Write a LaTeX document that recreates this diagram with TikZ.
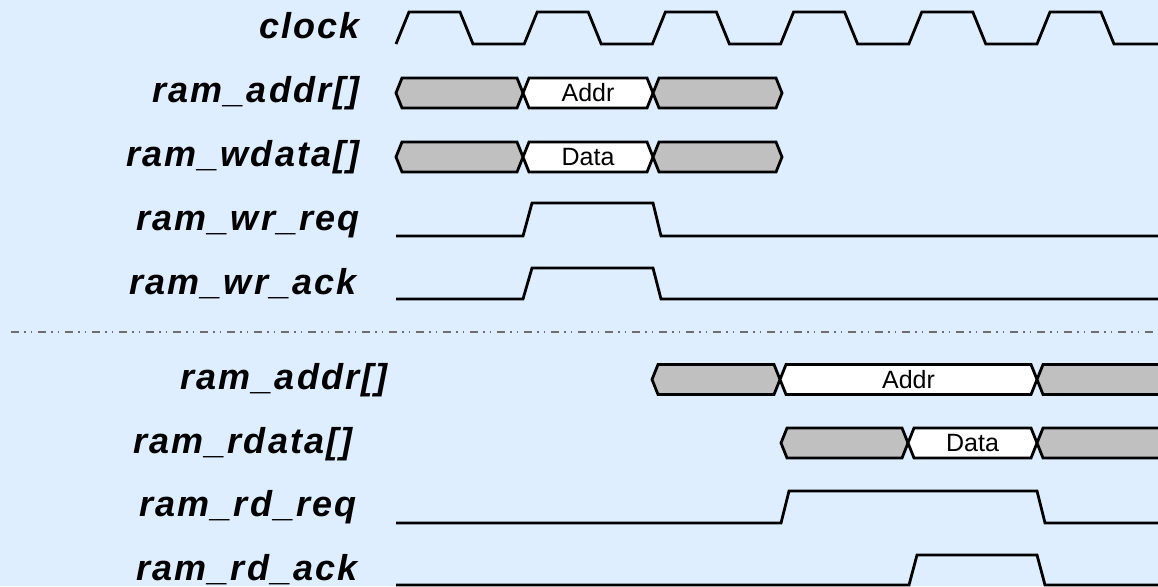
\documentclass[tikz,border=0pt]{standalone}
\usepackage{fontspec}
\setmainfont{Liberation Sans}
\newfontfamily\labfont[LetterSpace=6]{Liberation Sans}
\definecolor{bg}{RGB}{223,238,255}
\definecolor{busgray}{RGB}{192,192,192}
\definecolor{dashgray}{RGB}{110,110,110}
\newcommand\busseg[6]{% #1 name, #2 x1, #3 x2, #4 ymid, #5 fill, #6 text
  \draw[bus,fill=#5] (#2,#4) -- (#2+6,#4-15) -- (#3-6,#4-15) -- (#3,#4) -- (#3-6,#4+15) -- (#2+6,#4+15) -- cycle;
  \node[bustext] (#1) at ({(#2+#3)/2},#4) {#6};}
\begin{document}
\begin{tikzpicture}[x=1pt,y=-1pt,
  sig/.style={line width=2.8pt, line join=miter, black},
  bus/.style={line width=2.8pt, line join=miter, black},
  bustext/.style={inner sep=0pt, font=\fontsize{25}{28}\selectfont},
  lab/.style={inner sep=0pt, anchor=base east, font=\labfont\bfseries\itshape\fontsize{36}{40}\selectfont}]
\fill[bg] (0,0) rectangle (1158,586);
\useasboundingbox (0,0) rectangle (1158,586);
\clip (0,0) rectangle (1158,586);
% labels
\node[lab] (lclk) at (360,38) {clock};
\node[lab] (lwa) at (360,102) {ram\_addr[]};
\node[lab] (lwd) at (360,166) {ram\_wdata[]};
\node[lab] (lwreq) at (360,230) {ram\_wr\_req};
\node[lab] (lwack) at (357,294) {ram\_wr\_ack};
\node[lab] (lra) at (388,389) {ram\_addr[]};
\node[lab] (lrd) at (353,453) {ram\_rdata[]};
\node[lab] (lrreq) at (357,516) {ram\_rd\_req};
\node[lab] (lrack) at (358,580) {ram\_rd\_ack};
% clock
\draw[sig] (396,44) \foreach \i in {0,...,5} { -- ++(13,-32) -- ++(51,0) -- ++(13,32) -- ++(51.2,0) };
% write buses
\busseg{wa1}{396}{523}{93}{busgray}{}
\busseg{wa2}{523}{653}{93}{white}{Addr}
\busseg{wa3}{653}{782}{93}{busgray}{}
\busseg{wd1}{396}{523}{157}{busgray}{}
\busseg{wd2}{523}{653}{157}{white}{Data}
\busseg{wd3}{653}{782}{157}{busgray}{}
% write handshakes
\draw[sig] (396,236) -- (523,236) -- (532,203) -- (653,203) -- (661,236) -- (1160,236);
\draw[sig] (396,299) -- (523,299) -- (532,268) -- (653,268) -- (661,299) -- (1160,299);
% separator
\draw[dashgray, line width=1.5pt, dash pattern=on 8pt off 5pt on 1.5pt off 5pt on 1.5pt off 6pt] (11,332) -- (1158,332);
% read buses
\busseg{ra1}{652}{780}{379.5}{busgray}{}
\busseg{ra2}{780}{1037}{379.5}{white}{Addr}
\busseg{ra3}{1037}{1180}{379.5}{busgray}{}
\busseg{rd1}{781}{908}{443}{busgray}{}
\busseg{rd2}{908}{1037}{443}{white}{Data}
\busseg{rd3}{1037}{1180}{443}{busgray}{}
% read handshakes
\draw[sig] (396,523) -- (781,523) -- (789,491) -- (1037,491) -- (1045,523) -- (1160,523);
\draw[sig] (396,585) -- (909,585) -- (917,555) -- (1037,555) -- (1045,585) -- (1160,585);
\end{tikzpicture}
\end{document}
